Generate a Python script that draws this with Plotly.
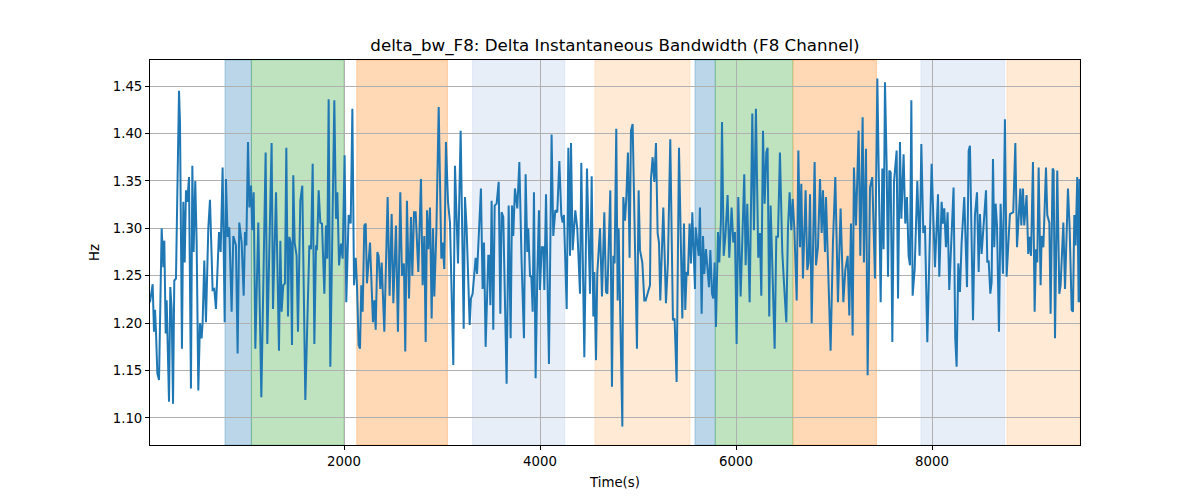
import plotly.graph_objects as go

# ---- data ----
time_s = [
    20, 47, 61, 71, 81, 95, 112, 139, 156, 166, 180, 190, 214, 227, 241, 255, 268, 285, 316, 326,
    346, 360, 374, 387, 401, 418, 438, 452, 465, 482, 496, 513, 530, 547, 557, 574, 591, 615, 632, 659,
    676, 693, 724, 741, 761, 782, 795, 812, 829, 853, 870, 897, 914, 931, 955,
    976, 989, 1003, 1020, 1034, 1051, 1064, 1078, 1095, 1125, 1156, 1200, 1217, 1261, 1275, 1306, 1336, 1350, 1363, 1380,
    1397, 1411, 1428, 1442, 1455, 1469, 1482, 1496, 1516, 1530, 1554, 1574, 1605, 1646, 1663, 1680, 1697, 1714, 1724, 1741,
    1758, 1775, 1799, 1816, 1829, 1843, 1860, 1901,
    1918, 1932, 1949, 1969, 1986, 2006, 2023, 2047, 2068, 2085, 2102, 2119, 2132, 2149, 2163, 2176, 2190, 2207, 2221, 2234,
    2265, 2295, 2309, 2323, 2340, 2353, 2370, 2384, 2411, 2445, 2465, 2486, 2503, 2530, 2550, 2574, 2591, 2611, 2625, 2642,
    2663, 2683, 2697, 2714, 2731, 2758, 2785, 2802, 2819,
    2833, 2847, 2860, 2877, 2894, 2908, 2921, 2942, 2966, 2993, 3006, 3023, 3040, 3061, 3081, 3115, 3132, 3163, 3190, 3221,
    3234, 3251, 3282, 3295, 3312, 3343, 3357, 3397, 3414, 3428, 3445, 3472, 3482, 3493, 3506, 3523, 3537, 3557, 3578, 3595,
    3608, 3625, 3659, 3680, 3700, 3714, 3727, 3744,
    3768, 3789, 3812, 3836, 3853, 3870, 3880, 3898, 3911, 3925, 3938, 3955, 3972, 3989, 3999, 4017, 4034, 4044, 4061, 4091,
    4118, 4135, 4156, 4176, 4197, 4217, 4231, 4244, 4272, 4289, 4306, 4316, 4333, 4360, 4380, 4408, 4421, 4452, 4479, 4510,
    4527, 4544, 4554, 4571, 4584, 4612, 4632,
    4656, 4673, 4687, 4717, 4734, 4748, 4761, 4778, 4792, 4802, 4823, 4840, 4850, 4867, 4880, 4897, 4914, 4928, 4945, 4965,
    4989, 5006, 5020, 5044, 5064, 5078, 5122, 5132, 5149, 5166, 5183, 5200, 5214, 5227, 5258, 5285, 5305, 5329, 5356, 5373,
    5394, 5418, 5431, 5452, 5469, 5482, 5496, 5509, 5526, 5540, 5554, 5581,
    5588, 5602, 5619, 5632, 5649, 5663, 5676, 5693, 5710, 5724, 5738, 5755, 5768, 5782, 5795, 5816, 5829, 5846, 5857, 5874,
    5891, 5914, 5931, 5955, 5972, 5989, 6006, 6023, 6047, 6067, 6084, 6098, 6115, 6139, 6166, 6183, 6203, 6227, 6244, 6258,
    6275, 6292, 6309, 6322, 6339, 6353, 6380, 6394, 6411, 6428, 6448, 6472,
    6489, 6513, 6530, 6547, 6564, 6578, 6595, 6619, 6636, 6653, 6666, 6683, 6710, 6727, 6741, 6755, 6772, 6789, 6802, 6816,
    6836, 6857, 6874, 6887, 6908, 6918, 6965, 6989, 7013, 7040, 7067, 7095, 7115, 7139, 7156, 7173, 7190, 7203, 7224, 7251,
    7268, 7292, 7305, 7326, 7343, 7367, 7390, 7418,
    7442, 7476, 7493, 7506, 7520, 7537, 7551, 7564, 7578, 7595, 7612, 7639, 7653, 7673, 7687, 7710, 7727, 7744, 7761, 7775,
    7789, 7802, 7823, 7850, 7873, 7891, 7911, 7928, 7952, 7996, 8030, 8061, 8074, 8098, 8112, 8125, 8142, 8159, 8176, 8220,
    8237, 8251, 8268, 8285, 8302, 8329,
    8357, 8374, 8387, 8401, 8418, 8438, 8459, 8476, 8489, 8506, 8527, 8551, 8564, 8578, 8595, 8608, 8622, 8635, 8649, 8663,
    8683, 8700, 8724, 8744, 8761, 8795, 8829, 8850, 8867, 8884, 8901, 8911, 8928, 8941, 8965, 8982, 8993, 9010, 9030, 9047,
    9061, 9074, 9088, 9108,
    9119, 9136, 9163, 9176, 9197, 9210, 9231, 9241, 9255, 9278, 9299, 9312, 9340, 9357, 9387, 9404, 9425, 9438, 9452, 9465,
    9482, 9496, 9505, 9510,
]

delta_bw_hz = [
    1.222, 1.241, 1.191, 1.214, 1.191, 1.147, 1.140, 1.300, 1.259, 1.287, 1.189, 1.224, 1.117, 1.238, 1.215, 1.115, 1.245, 1.247, 1.445, 1.412,
    1.173, 1.328, 1.264, 1.340, 1.328, 1.354, 1.131, 1.366, 1.275, 1.350, 1.285, 1.129, 1.200, 1.184, 1.201, 1.266, 1.201, 1.300, 1.330, 1.235,
    1.236, 1.215, 1.296, 1.275, 1.364, 1.201, 1.352, 1.291, 1.301, 1.212, 1.292, 1.282, 1.168, 1.306, 1.285,
    1.229, 1.296, 1.282, 1.391, 1.322, 1.345, 1.298, 1.338, 1.173, 1.306, 1.122, 1.380, 1.178, 1.390, 1.215, 1.338, 1.171, 1.287, 1.212, 1.240,
    1.242, 1.385, 1.207, 1.291, 1.285, 1.177, 1.356, 1.285, 1.271, 1.191, 1.329, 1.345, 1.119, 1.282, 1.278, 1.368, 1.178, 1.282, 1.277, 1.340,
    1.306, 1.305, 1.231, 1.303, 1.268, 1.436, 1.154, 1.435,
    1.310, 1.338, 1.261, 1.284, 1.268, 1.377, 1.222, 1.314, 1.305, 1.426, 1.240, 1.269, 1.240, 1.177, 1.173, 1.240, 1.212, 1.303, 1.305, 1.242,
    1.285, 1.201, 1.224, 1.193, 1.275, 1.271, 1.236, 1.264, 1.191, 1.333, 1.229, 1.315, 1.221, 1.303, 1.191, 1.338, 1.250, 1.263, 1.170, 1.329,
    1.226, 1.312, 1.250, 1.317, 1.317, 1.254, 1.352, 1.240, 1.292,
    1.180, 1.319, 1.278, 1.322, 1.205, 1.300, 1.228, 1.296, 1.428, 1.268, 1.285, 1.257, 1.391, 1.328, 1.306, 1.156, 1.366, 1.263, 1.403, 1.194,
    1.333, 1.300, 1.198, 1.226, 1.231, 1.269, 1.252, 1.342, 1.236, 1.285, 1.175, 1.271, 1.271, 1.219, 1.329, 1.193, 1.324, 1.326, 1.349, 1.210,
    1.317, 1.312, 1.136, 1.324, 1.184, 1.324, 1.292, 1.342,
    1.321, 1.370, 1.264, 1.184, 1.357, 1.275, 1.300, 1.249, 1.250, 1.212, 1.338, 1.142, 1.250, 1.319, 1.235, 1.280, 1.280, 1.235, 1.336, 1.157,
    1.399, 1.292, 1.319, 1.317, 1.371, 1.314, 1.306, 1.314, 1.215, 1.385, 1.271, 1.390, 1.277, 1.319, 1.300, 1.231, 1.369, 1.164, 1.363, 1.231,
    1.355, 1.207, 1.254, 1.161, 1.252, 1.300, 1.228,
    1.317, 1.233, 1.231, 1.340, 1.133, 1.271, 1.263, 1.405, 1.224, 1.300, 1.201, 1.091, 1.333, 1.308, 1.331, 1.380, 1.269, 1.403, 1.410, 1.308,
    1.173, 1.340, 1.277, 1.264, 1.224, 1.224, 1.240, 1.352, 1.375, 1.349, 1.390, 1.295, 1.285, 1.224, 1.322, 1.221, 1.264, 1.394, 1.203, 1.205,
    1.138, 1.385, 1.326, 1.205, 1.305, 1.214, 1.254, 1.250, 1.305, 1.263, 1.317, 1.236,
    1.301, 1.285, 1.271, 1.322, 1.210, 1.292, 1.252, 1.278, 1.250, 1.238, 1.277, 1.231, 1.226, 1.264, 1.196, 1.296, 1.264, 1.308, 1.412, 1.271,
    1.291, 1.335, 1.269, 1.322, 1.285, 1.296, 1.178, 1.333, 1.228, 1.291, 1.357, 1.261, 1.326, 1.222, 1.421, 1.298, 1.426, 1.269, 1.295, 1.229,
    1.403, 1.326, 1.380, 1.385, 1.207, 1.324, 1.231, 1.173, 1.291, 1.291, 1.380, 1.275,
    1.243, 1.201, 1.300, 1.338, 1.298, 1.331, 1.300, 1.224, 1.382, 1.280, 1.347, 1.247, 1.340, 1.256, 1.264, 1.336, 1.200, 1.292, 1.370, 1.261,
    1.280, 1.352, 1.295, 1.340, 1.275, 1.333, 1.171, 1.285, 1.354, 1.222, 1.321, 1.222, 1.256, 1.271, 1.208, 1.305, 1.187, 1.364, 1.303, 1.403,
    1.271, 1.417, 1.264, 1.384, 1.145, 1.343, 1.354, 1.247,
    1.458, 1.222, 1.363, 1.278, 1.454, 1.366, 1.249, 1.361, 1.359, 1.180, 1.349, 1.382, 1.226, 1.391, 1.310, 1.378, 1.305, 1.333, 1.271, 1.261,
    1.435, 1.229, 1.257, 1.350, 1.271, 1.389, 1.295, 1.303, 1.180, 1.368, 1.259, 1.336, 1.249, 1.328, 1.305, 1.321, 1.280, 1.317, 1.235, 1.343,
    1.184, 1.154, 1.263, 1.233, 1.285, 1.333,
    1.238, 1.382, 1.387, 1.306, 1.203, 1.314, 1.338, 1.254, 1.315, 1.273, 1.310, 1.340, 1.264, 1.266, 1.231, 1.243, 1.373, 1.280, 1.326, 1.303,
    1.191, 1.326, 1.252, 1.415, 1.249, 1.315, 1.317, 1.390, 1.280, 1.319, 1.342, 1.303, 1.342, 1.303, 1.335, 1.273, 1.291, 1.271, 1.370, 1.212,
    1.278, 1.264, 1.364, 1.240,
    1.292, 1.280, 1.364, 1.314, 1.306, 1.210, 1.363, 1.361, 1.184, 1.361, 1.231, 1.240, 1.306, 1.236, 1.342, 1.301, 1.214, 1.212, 1.314, 1.282,
    1.354, 1.222, 1.352, 1.222,
]

# shaded intervals: start, end, colour name
span_starts = [785, 1055, 2130, 3312, 4560, 5581, 5788, 6583, 7887, 8765]
span_ends = [1055, 2000, 3055, 4252, 5530, 5788, 6580, 7433, 8742, 9510]
span_kinds = ["blue", "green", "orange", "lightblue", "lightorange",
              "blue", "green", "orange", "lightblue", "lightorange"]

x_ticks = [2000, 4000, 6000, 8000]
y_ticks = [1.10, 1.15, 1.20, 1.25, 1.30, 1.35, 1.40, 1.45]

span_colors = {
    "blue": "rgba(31,119,180,0.3)",
    "green": "rgba(44,160,44,0.3)",
    "orange": "rgba(255,127,14,0.3)",
    "lightblue": "rgba(174,199,232,0.3)",
    "lightorange": "rgba(255,187,120,0.3)",
}

FONT = "DejaVu Sans, Liberation Sans, sans-serif"

fig = go.Figure()
fig.add_trace(go.Scatter(
    x=time_s, y=delta_bw_hz, mode="lines",
    line=dict(color="#1f77b4", width=2),
    showlegend=False, hoverinfo="skip",
))

for s, e, k in zip(span_starts, span_ends, span_kinds):
    fig.add_shape(type="rect", xref="x", yref="paper", x0=s, x1=e, y0=0, y1=1,
                  fillcolor=span_colors[k], line=dict(color=span_colors[k], width=1),
                  layer="below")

# the page body adds an 8px offset; margins compensate for it
fig.update_layout(
    width=1200, height=500,
    margin=dict(l=142, r=128, t=52, b=63),
    paper_bgcolor="white", plot_bgcolor="white",
    font=dict(family=FONT, size=13.3, color="black"),
    title=dict(text="delta_bw_F8: Delta Instantaneous Bandwidth (F8 Channel)",
               x=0.5, xref="paper", xanchor="center",
               y=1 - 37 / 500, yref="container", yanchor="middle",
               font=dict(family=FONT, size=16.7, color="black")),
)

fig.update_xaxes(
    range=[20, 9510], tickvals=x_ticks, ticktext=[str(v) for v in x_ticks],
    showgrid=True, gridcolor="#b0b0b0", gridwidth=0.8,
    showline=True, linecolor="black", linewidth=1, mirror=True,
    ticks="outside", ticklen=4, tickcolor="black", tickwidth=1,
    zeroline=False,
    title=dict(text="Time(s)", standoff=9, font=dict(family=FONT, size=13.3)),
    tickfont=dict(family=FONT, size=13.3),
)
fig.update_yaxes(
    range=[1.0715, 1.4775], tickvals=y_ticks, ticktext=[f"{v:.2f}" for v in y_ticks],
    showgrid=True, gridcolor="#b0b0b0", gridwidth=0.8,
    showline=True, linecolor="black", linewidth=1, mirror=True,
    ticks="outside", ticklen=4, tickcolor="black", tickwidth=1,
    zeroline=False,
    title=dict(text="Hz", standoff=10, font=dict(family=FONT, size=13.3)),
    tickfont=dict(family=FONT, size=13.3),
)

fig.write_html("out.html")
